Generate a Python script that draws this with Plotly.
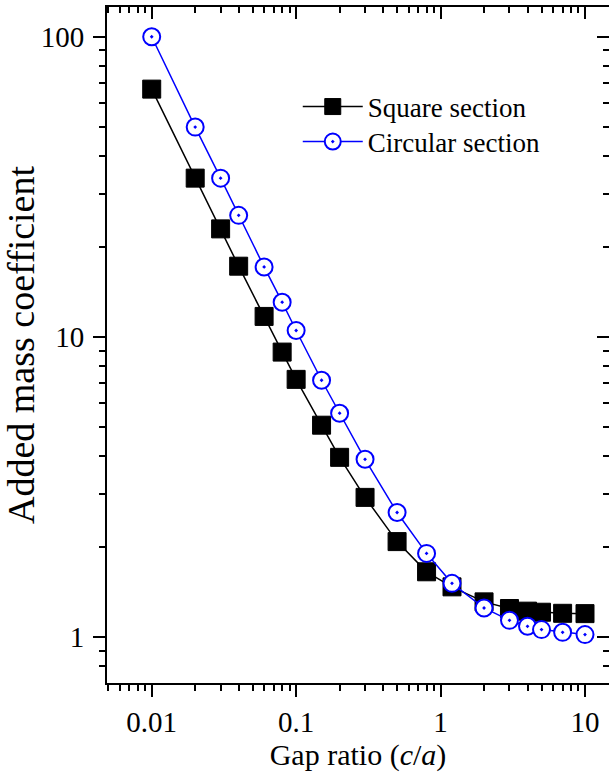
import numpy as np
import plotly.graph_objects as go

# Data
gap_ratio = [0.01, 0.02, 0.03, 0.04, 0.06, 0.08, 0.1, 0.15, 0.2, 0.3, 0.5, 0.8, 1.2, 2, 3, 4, 5, 7, 10]
square_section = [66.9, 33.8, 22.9, 17.2, 11.7, 8.9, 7.22, 5.08, 3.97, 2.92, 2.08, 1.65, 1.47, 1.31, 1.245, 1.22, 1.21, 1.20, 1.197]
circular_section = [100, 50.0, 33.8, 25.4, 17.1, 13.05, 10.5, 7.17, 5.57, 3.91, 2.60, 1.90, 1.51, 1.25, 1.137, 1.086, 1.059, 1.037, 1.019]
series_names = ["Square section", "Circular section"]
y_tick_vals = [1, 10, 100]
y_tick_text = ["1", "10", "100"]
x_tick_vals = [0.01, 0.1, 1, 10]
x_tick_text = ["0.01", "0.1", "1", "10"]

FONT = "Liberation Serif, Times New Roman, serif"
XR = [-2.3096, 1.1662]
YR = [-0.153, 2.099]

fig = go.Figure()
fig.add_trace(go.Scatter(
    x=gap_ratio, y=square_section, name=series_names[0], mode="lines+markers",
    line=dict(color="black", width=1.5), legend="legend",
    marker=dict(symbol="square", size=18, color="black", line=dict(color="black", width=1)),
))
fig.add_trace(go.Scatter(
    x=gap_ratio, y=circular_section, name=series_names[1], mode="lines+markers",
    line=dict(color="#0000FF", width=1.5), legend="legend2",
    marker=dict(symbol="circle-dot", size=17, color="white", line=dict(color="#0000FF", width=2)),
))
# empty helper trace so the top/right tick axes exist
fig.add_trace(go.Scatter(x=[], y=[], xaxis="x2", yaxis="y2", showlegend=False, hoverinfo="skip"))

common_x = dict(type="log", range=XR, showgrid=False, zeroline=False, linecolor="black", linewidth=2,
                tickcolor="black", tickwidth=2, ticklen=12, dtick=1)
common_y = dict(type="log", range=YR, showgrid=False, zeroline=False, linecolor="black", linewidth=2,
                tickcolor="black", tickwidth=2, ticklen=12, dtick=1)

leg_common = dict(xanchor="left", yanchor="middle", bgcolor="rgba(0,0,0,0)",
                  font=dict(family=FONT, size=27, color="black"), itemwidth=60)

fig.update_layout(
    width=609, height=780, autosize=False,
    margin=dict(l=107, r=0, t=7, b=97),
    paper_bgcolor="white", plot_bgcolor="white",
    font=dict(family=FONT, color="black", size=29),
    showlegend=True,
    legend=dict(x=0.38, y=(683 - 107) / 676, **leg_common),
    legend2=dict(x=0.38, y=(683 - 142) / 676, **leg_common),
    xaxis=dict(**common_x, ticks="outside", showline=True,
               tickvals=x_tick_vals, ticktext=x_tick_text,
               tickfont=dict(family=FONT, size=29),
               minor=dict(ticks="outside", ticklen=6, tickwidth=2, tickcolor="black", dtick="D1", showgrid=False),
               title=dict(text="Gap ratio (<i>c</i>/<i>a</i>)", font=dict(family=FONT, size=30), standoff=6)),
    yaxis=dict(**common_y, ticks="outside", showline=True,
               tickvals=y_tick_vals, ticktext=y_tick_text,
               tickfont=dict(family=FONT, size=29), ticklabelstandoff=3,
               minor=dict(ticks="outside", ticklen=6, tickwidth=2, tickcolor="black", dtick="D1", showgrid=False),
               title=dict(text="Added mass coefficient", font=dict(family=FONT, size=38), standoff=6)),
    xaxis2=dict(**common_x, overlaying="x", side="top", anchor="y", ticks="inside", showline=True,
                showticklabels=False,
                minor=dict(ticks="inside", ticklen=6, tickwidth=2, tickcolor="black", dtick="D1", showgrid=False)),
    yaxis2=dict(**common_y, overlaying="y", side="right", anchor="x", ticks="inside", showline=False,
                showticklabels=False,
                minor=dict(ticks="inside", ticklen=6, tickwidth=2, tickcolor="black", dtick="D1", showgrid=False)),
)

fig.write_html("out.html")
